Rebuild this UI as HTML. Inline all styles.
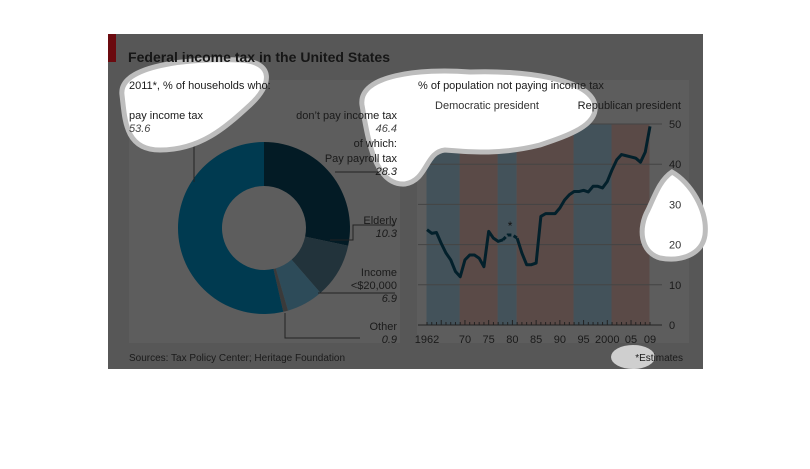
<!DOCTYPE html>
<html><head><meta charset="utf-8"><style>
body{margin:0;background:#fff;width:810px;height:464px;overflow:hidden;font-family:"Liberation Sans",sans-serif}
svg text{font-family:"Liberation Sans",sans-serif}
</style></head><body>
<svg width="810" height="464">
<rect x="108" y="34" width="595" height="335" fill="#575757"/>
<rect x="108" y="34" width="8" height="28" fill="#6b0a0f"/>
<rect x="129" y="80" width="271" height="263" fill="#5d5d5d"/>
<rect x="417" y="80" width="272" height="263" fill="#5d5d5d"/>
<g id="donut"></g>
<g id="line"></g>
<g>
<path d="M122,95 C118,65 190,58 240,60 C275,62 272,85 250,105 C225,128 200,150 160,150 C125,150 125,120 122,95Z" fill="#fff" stroke="#bdbdbd" stroke-width="5"/>
<path d="M362,105 C358,75 420,68 470,72 C520,70 590,78 595,105 C598,125 570,135 540,145 C500,155 470,152 445,150 C425,152 428,180 405,184 C375,186 368,140 362,105Z" fill="#fff" stroke="#bdbdbd" stroke-width="5"/>
<path d="M672,172 C690,182 708,210 705,235 C702,255 680,262 660,258 C640,252 638,228 648,210 C655,195 660,180 672,172Z" fill="#fff" stroke="#bdbdbd" stroke-width="5"/>
<ellipse cx="633" cy="357" rx="22" ry="12" fill="#cfcfcf"/>
</g>
<text x="128" y="62" font-size="14" font-weight="bold" fill="#161616" textLength="262" lengthAdjust="spacingAndGlyphs">Federal income tax in the United States</text>
<g font-size="11" fill="#1a1a1a">
<text x="129" y="89">2011*, % of households who:</text>
<text x="129" y="119">pay income tax</text>
<text x="129" y="132" font-style="italic" fill="#444">53.6</text>
<text x="397" y="119" text-anchor="end">don’t pay income tax</text>
<text x="397" y="132" text-anchor="end" font-style="italic" fill="#444">46.4</text>
<text x="397" y="147" text-anchor="end">of which:</text>
<text x="397" y="162" text-anchor="end">Pay payroll tax</text>
<text x="397" y="175" text-anchor="end" font-style="italic">28.3</text>
<text x="397" y="224" text-anchor="end">Elderly</text>
<text x="397" y="237" text-anchor="end" font-style="italic">10.3</text>
<text x="397" y="276" text-anchor="end">Income</text>
<text x="397" y="289" text-anchor="end">&lt;$20,000</text>
<text x="397" y="302" text-anchor="end" font-style="italic">6.9</text>
<text x="397" y="330" text-anchor="end">Other</text>
<text x="397" y="343" text-anchor="end" font-style="italic">0.9</text>
<text x="418" y="89">% of population not paying income tax</text>
<text x="487" y="109" text-anchor="middle" fill="#333">Democratic president</text>
<text x="681" y="109" text-anchor="end">Republican president</text>
<text x="129" y="361" font-size="10">Sources: Tax Policy Center; Heritage Foundation</text>
<text x="683" y="361" font-size="10" text-anchor="end">*Estimates</text>
</g>
<g id="yticks"></g>
</svg>
<script>
const sliceLabels=["Pay payroll tax","Elderly","Income <$20,000","Other","Pay income tax"];
const sliceValues=[28.3,10.3,6.9,0.9,53.6];
const sliceColors=["#031b25","#22333b","#2d4b59","#3a3a3a","#003a50"];
const years=[1962,1963,1964,1965,1966,1967,1968,1969,1970,1971,1972,1973,1974,1975,1976,1977,1978,1979,1980,1981,1982,1983,1984,1985,1986,1987,1988,1989,1990,1991,1992,1993,1994,1995,1996,1997,1998,1999,2000,2001,2002,2003,2004,2005,2006,2007,2008,2009];
const notPaying=[23.7,22.8,23,20.3,17.9,16.2,13.3,12,16.2,17.4,17.4,16.6,14.5,23.3,21.6,20.8,21.2,22.4,22.4,21.6,17.9,15,15,15.4,27,27.7,27.7,27.7,29.1,31.1,32.4,33.2,33.2,33.5,33.1,34.5,34.5,34.1,35.7,38.6,41.1,42.4,42.1,41.8,41.5,40.5,43,49.4];
const estimateYears=[1978,1979,1980,1981];
const bandStarts=[1962,1969,1977,1981,1993,2001];
const bandEnds=[1969,1977,1981,1993,2001,2009];
const bandParty=["D","R","D","R","D","R"];
const yTicks=[0,10,20,30,40,50];
const xTickYears=[1962,1970,1975,1980,1985,1990,1995,2000,2005,2009];
const xTickLabels=["1962","70","75","80","85","90","95","2000","05","09"];

const NS="http://www.w3.org/2000/svg";
function mk(t,a,p){const e=document.createElementNS(NS,t);for(const k in a)e.setAttribute(k,a[k]);p.appendChild(e);return e;}

const dg=document.getElementById('donut');
const cx=264,cy=228,R=86,r=42;
const total=sliceValues.reduce((a,b)=>a+b,0);
let ang=0;
sliceValues.forEach((v,i)=>{
  const a0=ang/total*2*Math.PI, a1=(ang+v)/total*2*Math.PI; ang+=v;
  const p=(rad,a)=>[cx+rad*Math.sin(a),cy-rad*Math.cos(a)];
  const big=(a1-a0)>Math.PI?1:0;
  const [x0,y0]=p(R,a0),[x1,y1]=p(R,a1),[x2,y2]=p(r,a1),[x3,y3]=p(r,a0);
  const e=mk('path',{d:`M${x0},${y0}A${R},${R} 0 ${big} 1 ${x1},${y1}L${x2},${y2}A${r},${r} 0 ${big} 0 ${x3},${y3}Z`,fill:sliceColors[i]},dg);
  
  
});
const lp=mk('path',{d:"M150,128H194V182 M335,172H395 M330,240H353V225H395 M318,293H395 M285,313V338H360",stroke:"#222",fill:"none","stroke-width":"1"},dg);



const lg=document.getElementById('line');
const yg=document.getElementById('yticks');
const xS=y=>427+(y-1962)*(650-427)/47;
const yS=v=>325-v*4.02;
bandStarts.forEach((s,i)=>{
  const e=mk('rect',{x:xS(s)-0.5,y:yS(50),width:xS(bandEnds[i])-xS(s),height:yS(0)-yS(50),fill:bandParty[i]==="D"?"#43525a":"#5a4a47"},lg);
  
  
});
yTicks.forEach(t=>{
  const g=mk('line',{x1:418,x2:662,y1:yS(t),y2:yS(t),stroke:t===0?"#222":"#444","stroke-width":1},lg);
  
  
  const tx=mk('text',{x:669,y:yS(t)+4,"font-size":11,fill:(t===20||t===30)?"#333":"#1a1a1a"},yg);tx.textContent=t;
  
  
});
years.forEach(y=>{
  const tk=mk('line',{x1:xS(y),x2:xS(y),y1:yS(0),y2:yS(0)-((y%5===0)?5:3),stroke:"#222"},lg);
  
  
});
xTickYears.forEach((y,i)=>{
  const tx=mk('text',{x:xS(y),y:yS(0)+18,"font-size":11,fill:"#1a1a1a","text-anchor":"middle"},lg);tx.textContent=xTickLabels[i];
  
  
});
function pathFor(filter){let d="",first=true;years.forEach((y,i)=>{if(!filter(y))return;d+=(first?"M":"L")+xS(y)+","+yS(notPaying[i]);first=false;});return d;}
const e0=estimateYears[0],e1=estimateYears[estimateYears.length-1];
const s1=mk('path',{d:pathFor(y=>y<=e0),stroke:"#03202b",fill:"none","stroke-width":3,"stroke-linejoin":"round"},lg);

const s2=mk('path',{d:pathFor(y=>y>=e0&&y<=e1),stroke:"#03202b",fill:"none","stroke-width":3,"stroke-dasharray":"4,2.5"},lg);

const s3=mk('path',{d:pathFor(y=>y>=e1),stroke:"#03202b",fill:"none","stroke-width":3,"stroke-linejoin":"round"},lg);

const st=mk('text',{x:xS(1979.5),y:yS(notPaying[years.indexOf(1980)])-5,"font-size":12,fill:"#111","text-anchor":"middle"},lg);st.textContent="*";

</script>
</body></html>
